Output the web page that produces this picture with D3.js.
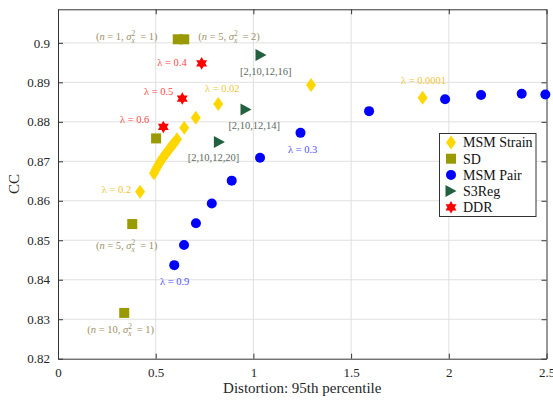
<!DOCTYPE html>
<html><head><meta charset="utf-8">
<script src="https://cdn.jsdelivr.net/npm/d3@7"></script>
<style>body{margin:0;background:#fff}svg{display:block}</style>
</head><body>
<svg id="c" width="553" height="400"></svg>
<script>
// ---- data ----
const strainX = [0.420, 0.491, 0.499, 0.507, 0.515, 0.522, 0.531, 0.540, 0.549, 0.558, 0.567, 0.576, 0.585, 0.594, 0.609, 0.646, 0.705, 0.820, 1.295, 1.866];
const strainY = [0.8623, 0.8670, 0.8678, 0.8685, 0.8692, 0.8698, 0.8705, 0.8711, 0.8717, 0.8723, 0.8729, 0.8735, 0.8741, 0.8746, 0.8756, 0.8785, 0.8810, 0.8845, 0.8893, 0.8861];
const sdX = [0.613, 0.646, 0.502, 0.380, 0.339];
const sdY = [0.9009, 0.9009, 0.8758, 0.8541, 0.8316];
const pairX = [0.595, 0.645, 0.706, 0.787, 0.889, 1.034, 1.241, 1.592, 1.981, 2.165, 2.373, 2.494];
const pairY = [0.8437, 0.8488, 0.8543, 0.8593, 0.8651, 0.8709, 0.8772, 0.8827, 0.8857, 0.8868, 0.8871, 0.8869];
const s3X = [1.039, 0.962, 0.826];
const s3Y = [0.8969, 0.8831, 0.8749];
const ddrX = [0.735, 0.636, 0.539];
const ddrY = [0.8948, 0.8859, 0.8787];
const xTicks = [0, 0.5, 1, 1.5, 2, 2.5];
const yTicks = [0.82, 0.83, 0.84, 0.85, 0.86, 0.87, 0.88, 0.89, 0.9];
const legendNames = ["MSM Strain", "SD", "MSM Pair", "S3Reg", "DDR"];
// annotations (data coords of label start)
const annLambdaText = ["0.4", "0.5", "0.6", "0.02", "0.2", "0.0001", "0.3", "0.9"];
const annLambdaSeries = ["ddr", "ddr", "ddr", "strain", "strain", "strain", "pair", "pair"];
const annLambdaX = [0.508, 0.440, 0.317, 0.752, 0.224, 1.755, 1.177, 0.522];
const annLambdaY = [0.8950, 0.8878, 0.8806, 0.8885, 0.8630, 0.8906, 0.8730, 0.8397];
const annSdN = ["1", "5", "5", "10"];
const annSdS = ["1", "2", "1", "1"];
const annSdX = [0.194, 0.718, 0.194, 0.150];
const annSdY = [0.9017, 0.9017, 0.8487, 0.8273];
const annS3Text = ["[2,10,12,16]", "[2,10,12,14]", "[2,10,12,20]"];
const annS3X = [0.931, 0.872, 0.664];
const annS3Y = [0.8927, 0.8790, 0.8709];

// ---- layout ----
const L = 58, R = 546.5, T = 9.3, B = 358.7;
const x = d3.scaleLinear().domain([0, 2.5]).range([L, R]);
const y = d3.scaleLinear().domain([0.82, 0.9085]).range([B, T]);
const svg = d3.select("#c");
const FONT = "'Liberation Serif','Times New Roman',serif";
const C = {strain: "#FFD700", sd: "#999900", pair: "#0000FF", s3: "#22613F", ddr: "#FF0000"};
const LC = {strain: "#F0C535", sd: "#9E9169", pair: "#5050FF", s3: "#5E6A62", ddr: "#FF4545"};

// grid
svg.append("g").selectAll("line").data(xTicks.slice(1, -1)).join("line")
  .attr("x1", d => x(d)).attr("x2", d => x(d)).attr("y1", T).attr("y2", B)
  .attr("stroke", "#e0e0e0").attr("stroke-width", 1);
svg.append("g").selectAll("line").data(yTicks.slice(1)).join("line")
  .attr("y1", d => y(d)).attr("y2", d => y(d)).attr("x1", L).attr("x2", R)
  .attr("stroke", "#e0e0e0").attr("stroke-width", 1);

// axes
const axColor = "#333";
function styleAxis(g) {
  g.select(".domain").attr("stroke", axColor);
  g.selectAll(".tick line").attr("stroke", axColor);
  g.selectAll("text").attr("font-family", FONT).attr("font-size", 13).attr("fill", "#262626");
}
const fmt = d => d3.format("")(+d.toFixed(2));
svg.append("g").attr("transform", `translate(0,${B})`)
  .call(d3.axisBottom(x).tickValues(xTicks).tickSize(-5).tickSizeOuter(0).tickPadding(9).tickFormat(fmt)).call(styleAxis);
svg.append("g").attr("transform", `translate(0,${T})`)
  .call(d3.axisTop(x).tickValues(xTicks).tickSize(-5).tickSizeOuter(0).tickFormat("")).call(styleAxis);
svg.append("g").attr("transform", `translate(${L},0)`)
  .call(d3.axisLeft(y).tickValues(yTicks).tickSize(-5).tickSizeOuter(0).tickPadding(8).tickFormat(fmt)).call(styleAxis);
svg.append("g").attr("transform", `translate(${R},0)`)
  .call(d3.axisRight(y).tickValues(yTicks).tickSize(-5).tickSizeOuter(0).tickFormat("")).call(styleAxis);

// axis labels
svg.append("text").attr("x", (L + R) / 2).attr("y", 393).attr("text-anchor", "middle")
  .attr("font-family", FONT).attr("font-size", 15).attr("fill", "#262626").text("Distortion: 95th percentile");
svg.append("text").attr("transform", `translate(19,${(T + B) / 2}) rotate(-90)`).attr("text-anchor", "middle")
  .attr("font-family", FONT).attr("font-size", 15).attr("fill", "#262626").text("CC");

// marker shapes
function diamond(cx, cy) { const w = 5, h = 7; return `M${cx},${cy - h}L${cx + w},${cy}L${cx},${cy + h}L${cx - w},${cy}Z`; }
function square(cx, cy) { const s = 5; return `M${cx - s},${cy - s}H${cx + s}V${cy + s}H${cx - s}Z`; }
function tri(cx, cy) { const w = 5.5, h = 6; return `M${cx + w},${cy}L${cx - w},${cy - h}L${cx - w},${cy + h}Z`; }
function star(cx, cy) {
  const r = 6.3; let p = "";
  for (const off of [-90, 90]) {
    const pts = [0, 1, 2].map(k => { const a = (off + k * 120) * Math.PI / 180; return [cx + r * Math.cos(a), cy + r * Math.sin(a)]; });
    p += `M${pts[0]}L${pts[1]}L${pts[2]}Z`;
  }
  return p;
}
function circ(cx, cy) { const r = 5; return `M${cx - r},${cy}A${r},${r} 0 1,0 ${cx + r},${cy}A${r},${r} 0 1,0 ${cx - r},${cy}Z`; }

function series(xs, ys, shape, col) {
  svg.append("g").selectAll("path").data(xs.map((v, i) => [v, ys[i]])).join("path")
    .attr("d", d => shape(x(d[0]), y(d[1]))).attr("fill", col).attr("stroke", "none");
}
series(strainX, strainY, diamond, C.strain);
series(sdX, sdY, square, C.sd);
series(pairX, pairY, circ, C.pair);
series(s3X, s3Y, tri, C.s3);
series(ddrX, ddrY, star, C.ddr);

// annotations
const aFont = 10.5;
annLambdaText.forEach((t, i) => {
  svg.append("text").attr("x", x(annLambdaX[i])).attr("y", y(annLambdaY[i])).attr("dy", "0.35em")
    .attr("font-family", FONT).attr("font-size", aFont).attr("fill", LC[annLambdaSeries[i]])
    .attr("xml:space", "preserve").text(`λ = ${t}`);
});
annS3Text.forEach((t, i) => {
  svg.append("text").attr("x", x(annS3X[i])).attr("y", y(annS3Y[i])).attr("dy", "0.35em")
    .attr("font-family", FONT).attr("font-size", aFont).attr("fill", LC.s3).text(t);
});
annSdN.forEach((n, i) => {
  const t = svg.append("text").attr("x", x(annSdX[i])).attr("y", y(annSdY[i]) + 3.5)
    .attr("font-family", FONT).attr("font-size", aFont).attr("fill", LC.sd).attr("xml:space", "preserve");
  t.append("tspan").text("(");
  t.append("tspan").attr("font-style", "italic").text("n");
  t.append("tspan").text(` = ${n}, `);
  t.append("tspan").attr("font-style", "italic").text("σ");
  t.append("tspan").attr("font-size", 7.5).attr("dy", -4).text("2");
  t.append("tspan").attr("font-size", 7.5).attr("font-style", "italic").attr("dx", -3.7).attr("dy", 7).text("x");
  t.append("tspan").attr("dy", -3).text(`  = ${annSdS[i]})`);
});

// legend
const lg = svg.append("g");
lg.append("rect").attr("x", 439.5).attr("y", 133.5).attr("width", 96.5).attr("height", 83)
  .attr("fill", "#fff").attr("stroke", "#333").attr("stroke-width", 1);
const shapes = [diamond, square, circ, tri, star];
const cols = [C.strain, C.sd, C.pair, C.s3, C.ddr];
const ly = d3.scaleLinear().domain([0, 4]).range([142.5, 207.3]);
legendNames.forEach((nm, i) => {
  lg.append("path").attr("d", shapes[i](451, ly(i))).attr("fill", cols[i]);
  lg.append("text").attr("x", 463).attr("y", ly(i)).attr("dy", "0.35em")
    .attr("font-family", FONT).attr("font-size", 14).attr("fill", "#111").text(nm);
});
</script>
</body></html>
